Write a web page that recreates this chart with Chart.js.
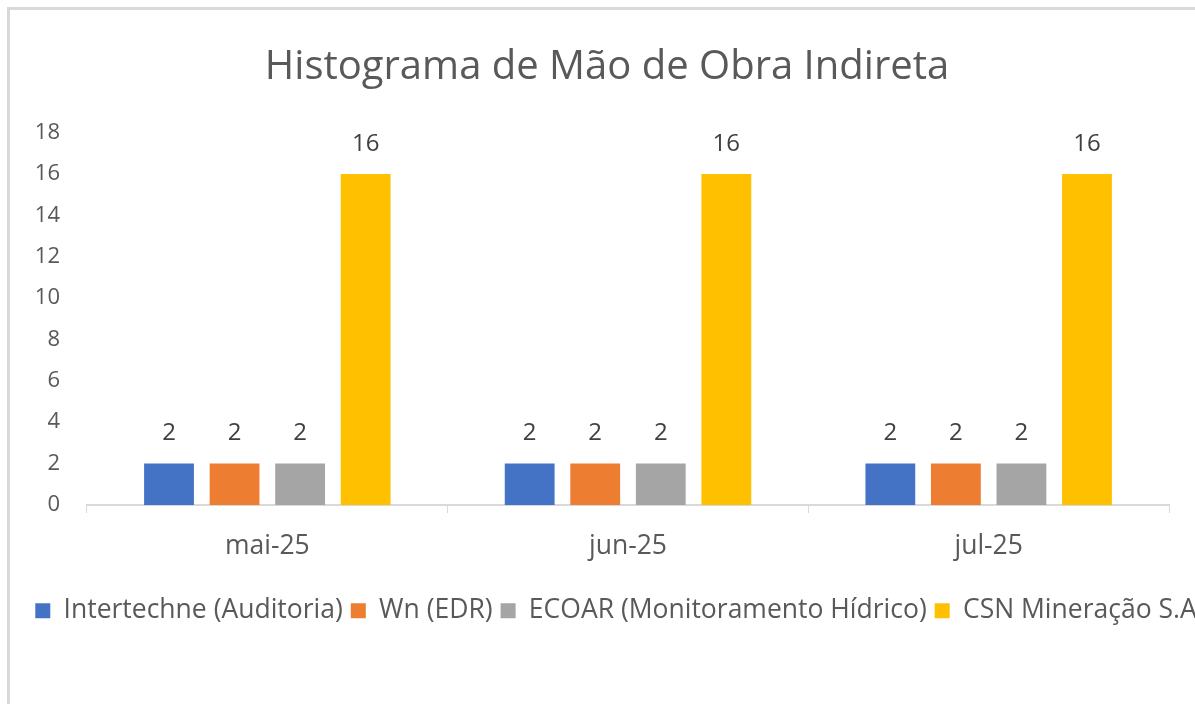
<!DOCTYPE html>
<html>
<head>
<meta charset="utf-8">
<script src="https://cdn.jsdelivr.net/npm/chart.js@4.4.1/dist/chart.umd.min.js"></script>
<style>
  html, body { margin: 0; padding: 0; background: #fff; overflow: hidden; }
  #box {
    position: absolute; left: 7px; top: 7px;
    width: 1194px; height: 697px;
    border-left: 3px solid #d9d9d9; border-top: 3px solid #d9d9d9;
  }
</style>
</head>
<body>
<div id="box"><canvas id="chart" width="1194" height="694"></canvas></div>
<script>
const months = ['mai-25', 'jun-25', 'jul-25'];
const seriesNames = ['Intertechne (Auditoria)', 'Wn (EDR)', 'ECOAR (Monitoramento Hídrico)', 'CSN Mineração S.A'];
const intertechne = [2, 2, 2];
const wn = [2, 2, 2];
const ecoar = [2, 2, 2];
const csn = [16, 16, 16];
const seriesColors = ['#4472C4', '#ED7D31', '#A5A5A5', '#FFC000'];

const FONT = '"Open Sans", Lato, sans-serif';
const TEXT = '#595959';

// draw value above every bar
const valueLabels = {
  id: 'valueLabels',
  afterDatasetsDraw(chart) {
    const ctx = chart.ctx;
    ctx.save();
    ctx.font = '24px ' + FONT;
    ctx.fillStyle = '#404040';
    ctx.textAlign = 'center';
    ctx.textBaseline = 'middle';
    chart.data.datasets.forEach((ds, i) => {
      chart.getDatasetMeta(i).data.forEach((bar, j) => {
        ctx.fillText(ds.data[j], bar.x, bar.y - 30);
      });
    });
    ctx.restore();
  }
};

// legend in the original sits a bit right of the title centre
const legendShift = {
  id: 'legendShift',
  afterLayout(chart) {
    chart.legend.left += 9;
    chart.legend.right += 9;
  }
};

const allData = [intertechne, wn, ecoar, csn];

let ctx = document.getElementById('chart').getContext('2d');
const chart = new Chart(ctx, {
  type: 'bar',
  data: {
    labels: months,
    datasets: allData.map((d, i) => ({
      label: seriesNames[i],
      data: d,
      backgroundColor: seriesColors[i],
      categoryPercentage: 0.727,
      barPercentage: 0.76
    }))
  },
  options: {
    responsive: false,
    animation: false,
    layout: { padding: { left: 0, right: 0, top: 0, bottom: 70 } },
    plugins: {
      title: {
        display: true,
        text: 'Histograma de Mão de Obra Indireta',
        color: TEXT,
        font: { family: FONT, size: 40, weight: 'normal' },
        padding: { top: 34, bottom: 40.5 }
      },
      legend: {
        position: 'bottom',
        labels: {
          color: TEXT,
          font: { family: FONT, size: 26.5 },
          boxWidth: 15,
          boxHeight: 15,
          padding: 8
        }
      },
      tooltip: { enabled: false }
    },
    scales: {
      x: {
        grid: { drawOnChartArea: false, color: '#d9d9d9', tickLength: 8 },
        border: { color: '#d9d9d9', width: 2 },
        ticks: { color: TEXT, font: { family: FONT, size: 26.5 }, padding: 18 },
        afterFit(scale) { scale.height = 84.5; }
      },
      y: {
        min: 0,
        max: 18,
        ticks: { stepSize: 2, color: TEXT, font: { family: FONT, size: 22 }, padding: 27 },
        grid: { display: false, drawTicks: false },
        border: { display: false },
        afterFit(scale) { scale.width = 77; }
      },
      y2: {
        position: 'right',
        grid: { display: false, drawTicks: false },
        border: { display: false },
        ticks: { display: false },
        afterFit(scale) { scale.width = 35; }
      }
    }
  },
  plugins: [valueLabels, legendShift]
});
</script>
</body>
</html>
